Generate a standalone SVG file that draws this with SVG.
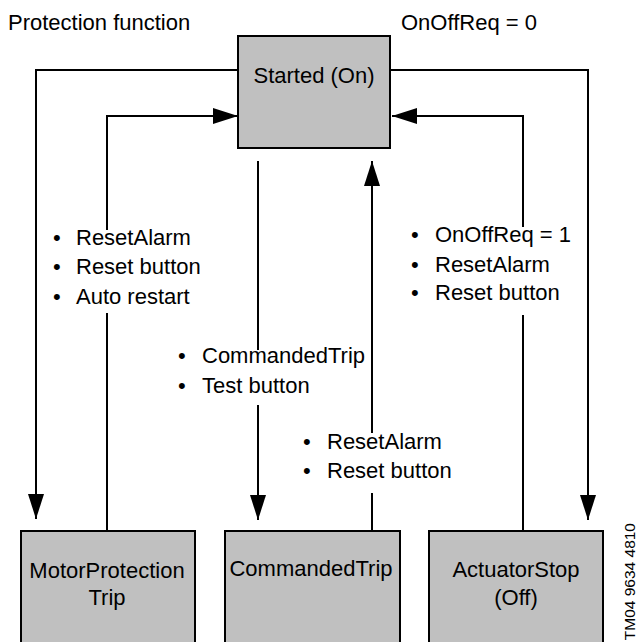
<svg xmlns="http://www.w3.org/2000/svg" width="637" height="642" viewBox="0 0 637 642">
<style>
text{font-family:"Liberation Sans",Arial,sans-serif;font-size:22px;fill:#000}
.c{text-anchor:middle}
.box{fill:#c0c0c0;stroke:#000;stroke-width:2}
.ln{fill:none;stroke:#000;stroke-width:2}
.arr{marker-end:url(#ah)}
.id{font-size:15.5px}
</style>
<defs>
<marker id="ah" markerUnits="userSpaceOnUse" viewBox="0 0 25 16" markerWidth="25" markerHeight="16" refX="25" refY="8" orient="auto">
<path d="M0,0 L25,8 L0,16 z" fill="#000"/>
</marker>
</defs>
<rect width="637" height="642" fill="#fff"/>
<text x="8" y="30">Protection function</text>
<text x="401" y="30">OnOffReq = 0</text>
<g id="connectors">
<path class="ln arr" d="M238,70 H36 V519"/>
<path class="ln arr" d="M107,531 V313 M107,230 V116 H238"/>
<path class="ln arr" d="M258,161 V350 M258,405 V520"/>
<path class="ln arr" d="M372,531 V493 M372,433 V161"/>
<path class="ln arr" d="M523,531 V315 M523,227 V116 H392"/>
<path class="ln arr" d="M390,70 H588 V520"/>
</g>
<g id="labels">
<text x="53" y="245">•<tspan x="76">ResetAlarm</tspan></text>
<text x="53" y="274">•<tspan x="76">Reset button</tspan></text>
<text x="53" y="304">•<tspan x="76">Auto restart</tspan></text>
<text x="178" y="363">•<tspan x="202">CommandedTrip</tspan></text>
<text x="178" y="393">•<tspan x="202">Test button</tspan></text>
<text x="303" y="449">•<tspan x="327">ResetAlarm</tspan></text>
<text x="303" y="478">•<tspan x="327">Reset button</tspan></text>
<text x="411" y="242">•<tspan x="435">OnOffReq = 1</tspan></text>
<text x="411" y="272">•<tspan x="435">ResetAlarm</tspan></text>
<text x="411" y="300">•<tspan x="435">Reset button</tspan></text>
</g>
<g id="started">
<rect class="box" x="238" y="36" width="152" height="112"/>
<text class="c" x="314" y="83">Started (On)</text>
</g>
<g id="motorprotection">
<rect class="box" x="21" y="531" width="174" height="130"/>
<text class="c" x="107" y="578">MotorProtection</text>
<text class="c" x="107" y="605">Trip</text>
</g>
<g id="commandedtrip">
<rect class="box" x="225" y="531" width="175" height="130"/>
<text class="c" x="311" y="576">CommandedTrip</text>
</g>
<g id="actuatorstop">
<rect class="box" x="429" y="531" width="174" height="130"/>
<text class="c" x="516" y="577">ActuatorStop</text>
<text class="c" x="516" y="605">(Off)</text>
</g>
<text class="id" transform="translate(635,523) rotate(-90)" text-anchor="end">TM04 9634 4810</text>
</svg>
